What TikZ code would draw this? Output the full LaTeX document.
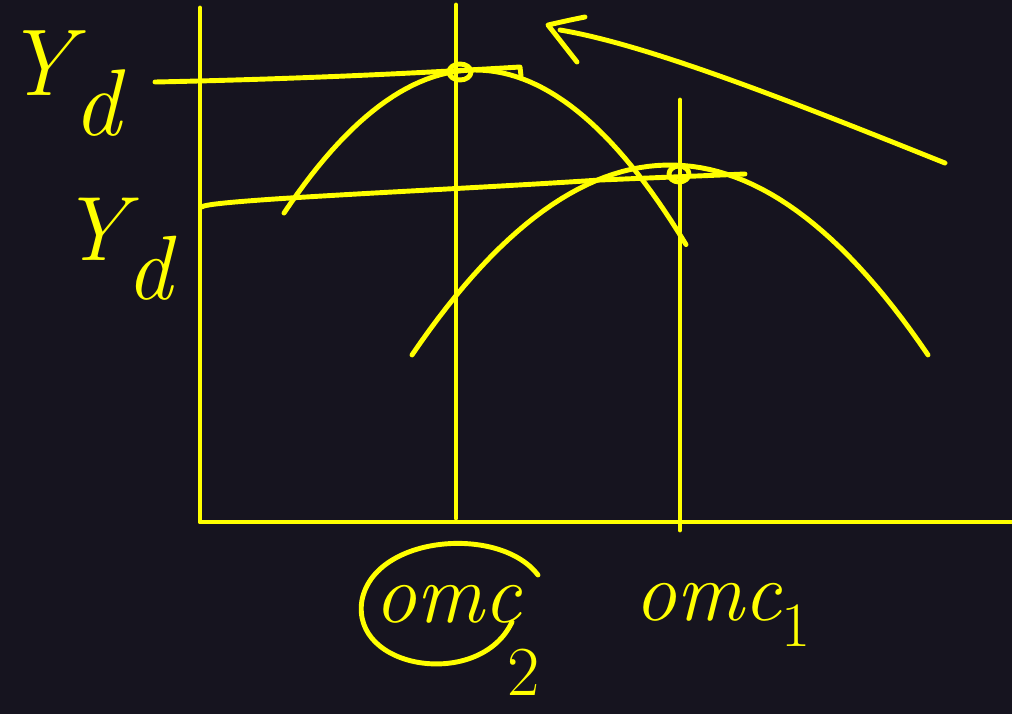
\documentclass[tikz,border=0pt]{standalone}
\usepackage{fontspec}
\definecolor{bg}{HTML}{16141F}
\definecolor{pen}{HTML}{FFFF00}
\tikzset{
  ink/.style={draw=pen, line width=2.8pt, line cap=round, line join=round},
  lab/.style={text=pen, inner sep=0pt, font=\fontsize{48}{56}\selectfont\itshape}
}
\begin{document}
\begin{tikzpicture}[x=0.02cm, y=-0.02cm]
\fill[bg] (0,0) rectangle (1012,714);
\useasboundingbox (0,0) rectangle (1012,714);
% axes
\coordinate (ytop) at (200,8);
\coordinate (orig) at (200,522);
\coordinate (xend) at (1012,522);
\draw[ink] (ytop) -- (orig) -- (xend);
% vertical lines
\coordinate (v1t) at (456,5);
\coordinate (v1b) at (456,518);
\coordinate (v2t) at (680,100);
\coordinate (v2b) at (680,530);
\draw[ink] (v1t) -- (v1b);
\draw[ink] (v2t) -- (v2b);
% horizontal level lines
\coordinate (h1a) at (155,82);
\coordinate (h1b) at (520,67);
\coordinate (h1c) at (521,76);
\draw[ink] (h1a) .. controls (300,79) and (420,73) .. (h1b) -- (h1c);
\coordinate (h2a) at (202,207);
\coordinate (h2b) at (745,174);
\draw[ink] (h2a) .. controls (205,200) and (450,190) .. (600,180) -- (h2b);
% parabolas
\draw[ink, domain=284:686, samples=60] plot (\x, {70+0.00392*(\x-475)*(\x-475)});
\draw[ink, domain=412:928, samples=60] plot (\x, {165+0.00285*(\x-670)*(\x-670)});
% points
\draw[ink] (460,72) ellipse [x radius=11, y radius=8];
\draw[ink] (679,174) ellipse [x radius=10, y radius=8];
% arrow
\coordinate (ast) at (945,163);
\coordinate (atip) at (548,25);
\coordinate (ab1) at (585,17);
\coordinate (ab2) at (577,62);
\draw[ink] (ast) .. controls (800,105) and (650,45) .. (560,30);
\draw[ink] (ab1) .. controls (570,20) .. (atip) -- (ab2);
% labels
\node[lab, font=\fontsize{54}{60}\selectfont\itshape, anchor=north west] (yd1) at (4,30) {Y\raisebox{-0.42em}{d}};
\node[lab, font=\fontsize{52}{58}\selectfont\itshape, anchor=north west] (yd2) at (60,198) {Y\raisebox{-0.42em}{d}};
\node[lab] (omc2) at (448,604) {omc};
\draw[ink] (538,575) .. controls (500,525) and (375,535) .. (362,600) .. controls (350,670) and (480,690) .. (512,622);
\node[lab, font=\fontsize{40}{46}\selectfont] (two) at (524,672) {2};
\node[lab] (omc1) at (708,602) {omc};
\node[lab, font=\fontsize{36}{40}\selectfont] (one) at (796,626) {1};
\end{tikzpicture}
\end{document}
